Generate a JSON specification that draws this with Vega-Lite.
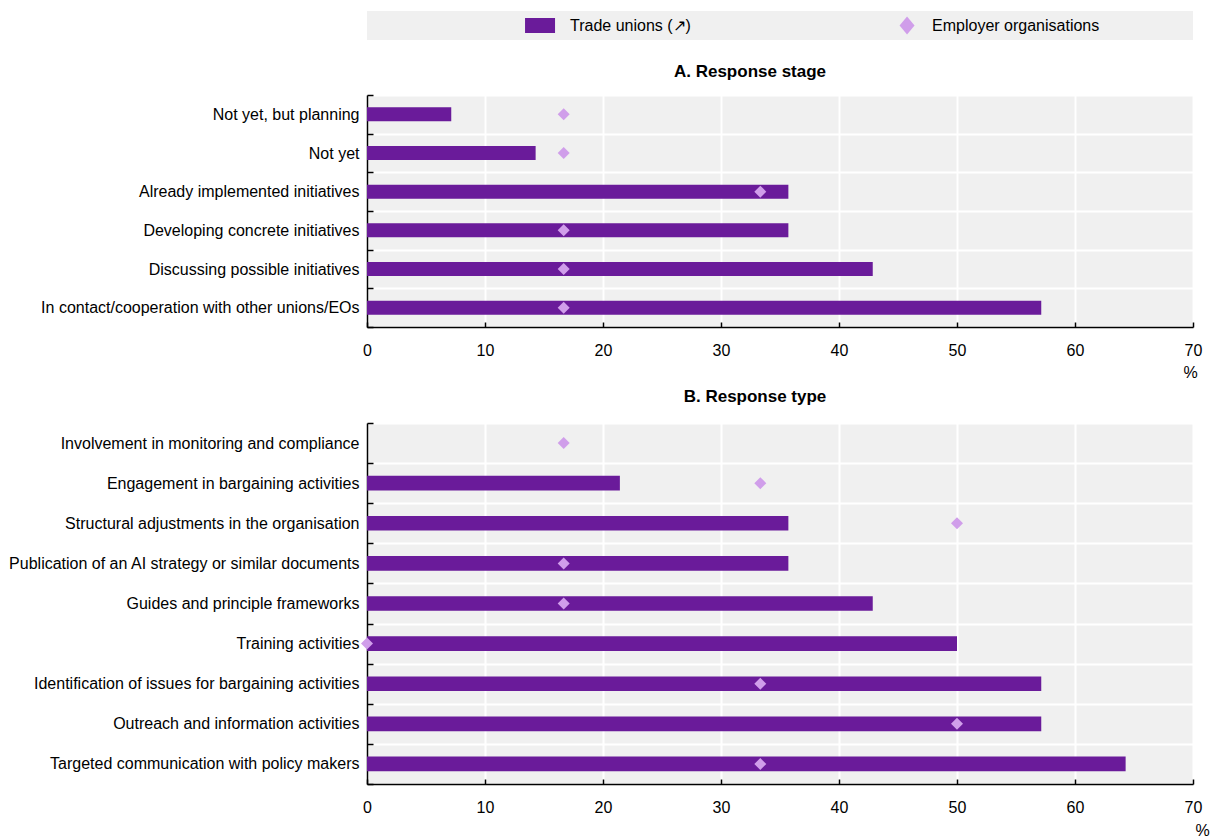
{
  "$schema": "https://vega.github.io/schema/vega-lite/v6.json",
  "padding": {"left": 7, "top": 11, "right": 5, "bottom": 0},
  "spacing": 8,
  "config": {
    "font": "Liberation Sans",
    "view": {"stroke": null},
    "axis": {
      "labelFont": "Liberation Sans",
      "labelFontSize": 16,
      "labelColor": "#000",
      "titleFont": "Liberation Sans",
      "titleFontSize": 16,
      "titleFontWeight": "normal",
      "titleColor": "#000",
      "domainColor": "#000",
      "domainWidth": 1.5,
      "tickColor": "#000",
      "tickWidth": 1.5,
      "gridColor": "#ffffff",
      "gridWidth": 2,
      "gridOpacity": 1
    }
  },
  "datasets": {
    "legend": [
      {"series": "Trade unions (↗)"},
      {"series": "Employer organisations"}
    ],
    "stage": [
      {"item": "Not yet, but planning", "tu": 7.14, "eo": 16.67},
      {"item": "Not yet", "tu": 14.29, "eo": 16.67},
      {"item": "Already implemented initiatives", "tu": 35.71, "eo": 33.33},
      {"item": "Developing concrete initiatives", "tu": 35.71, "eo": 16.67},
      {"item": "Discussing possible initiatives", "tu": 42.86, "eo": 16.67},
      {"item": "In contact/cooperation with other unions/EOs", "tu": 57.14, "eo": 16.67}
    ],
    "type": [
      {"item": "Involvement in monitoring and compliance", "tu": 0, "eo": 16.67},
      {"item": "Engagement in bargaining activities", "tu": 21.43, "eo": 33.33},
      {"item": "Structural adjustments in the organisation", "tu": 35.71, "eo": 50},
      {"item": "Publication of an AI strategy or similar documents", "tu": 35.71, "eo": 16.67},
      {"item": "Guides and principle frameworks", "tu": 42.86, "eo": 16.67},
      {"item": "Training activities", "tu": 50, "eo": 0},
      {"item": "Identification of issues for bargaining activities", "tu": 57.14, "eo": 33.33},
      {"item": "Outreach and information activities", "tu": 57.14, "eo": 50},
      {"item": "Targeted communication with policy makers", "tu": 64.29, "eo": 33.33}
    ]
  },
  "vconcat": [
    {
      "width": 826,
      "height": 29,
      "view": {"fill": "#F0F0F0", "stroke": null},
      "data": {"name": "legend"},
      "encoding": {
        "x": {
          "field": "series",
          "type": "nominal",
          "sort": null,
          "scale": {"type": "point", "padding": 0.6253, "align": 0.377},
          "axis": null
        }
      },
      "layer": [
        {
          "mark": {"type": "point", "filled": true, "opacity": 1, "size": 225, "strokeWidth": 0},
          "encoding": {
            "shape": {
              "field": "series",
              "type": "nominal",
              "scale": {
                "domain": ["Trade unions (↗)", "Employer organisations"],
                "range": ["M-2,-1H2V1H-2Z", "M-1,0L0,-1.2L1,0L0,1.2Z"]
              },
              "legend": null
            },
            "color": {
              "field": "series",
              "type": "nominal",
              "scale": {
                "domain": ["Trade unions (↗)", "Employer organisations"],
                "range": ["#6A1B9A", "#D09EEA"]
              },
              "legend": null
            }
          }
        },
        {
          "transform": [{"filter": "datum.series === 'Trade unions (↗)'"}],
          "mark": {"type": "text", "align": "left", "baseline": "middle", "dx": 30, "fontSize": 16, "color": "#000"},
          "encoding": {"text": {"field": "series"}}
        },
        {
          "transform": [{"filter": "datum.series === 'Employer organisations'"}],
          "mark": {"type": "text", "align": "left", "baseline": "middle", "dx": 25, "fontSize": 16, "color": "#000"},
          "encoding": {"text": {"field": "series"}}
        }
      ]
    },
    {
      "width": 826,
      "height": 232,
      "view": {"fill": "#F0F0F0", "stroke": null},
      "title": {
        "text": ["", "A. Response stage"],
        "lineHeight": 15,
        "fontSize": 17,
        "fontWeight": "bold",
        "color": "#000",
        "anchor": "middle",
        "frame": "group",
        "dx": -30,
        "offset": 6
      },
      "data": {"name": "stage"},
      "encoding": {
        "y": {
          "field": "item",
          "type": "nominal",
          "sort": null,
          "scale": {"paddingInner": 0, "paddingOuter": 0},
          "axis": {"title": null, "tickBand": "extent", "grid": true, "tickSize": -6, "labelPadding": 14, "labelLimit": 500}
        }
      },
      "layer": [
        {
          "mark": {"type": "bar", "color": "#6A1B9A", "height": {"band": 0.36}},
          "encoding": {
            "x": {
              "field": "tu",
              "type": "quantitative",
              "scale": {"domain": [0, 70], "nice": false},
              "axis": {
                "values": [0, 10, 20, 30, 40, 50, 60, 70],
                "grid": true,
                "tickSize": -5,
                "labelPadding": 20,
                "labelFlush": false,
                "title": "%",
                "titleX": 823,
                "titleY": 37,
                "titleAlign": "center",
                "titleBaseline": "top"
              }
            }
          }
        },
        {
          "mark": {"type": "point", "shape": "diamond", "filled": true, "opacity": 1, "size": 144, "color": "#D09EEA", "strokeWidth": 0},
          "encoding": {"x": {"field": "eo", "type": "quantitative"}}
        }
      ]
    },
    {
      "width": 826,
      "height": 361,
      "view": {"fill": "#F0F0F0", "stroke": null},
      "title": {
        "text": "B. Response type",
        "fontSize": 17,
        "fontWeight": "bold",
        "color": "#000",
        "anchor": "middle",
        "frame": "group",
        "dx": -25,
        "offset": 9
      },
      "data": {"name": "type"},
      "encoding": {
        "y": {
          "field": "item",
          "type": "nominal",
          "sort": null,
          "scale": {"paddingInner": 0, "paddingOuter": 0},
          "axis": {"title": null, "tickBand": "extent", "grid": true, "tickSize": -6, "labelPadding": 14, "labelLimit": 500}
        }
      },
      "layer": [
        {
          "mark": {"type": "bar", "color": "#6A1B9A", "height": {"band": 0.365}},
          "encoding": {
            "x": {
              "field": "tu",
              "type": "quantitative",
              "scale": {"domain": [0, 70], "nice": false},
              "axis": {
                "values": [0, 10, 20, 30, 40, 50, 60, 70],
                "grid": true,
                "tickSize": -5,
                "labelPadding": 20,
                "labelFlush": false,
                "title": "%",
                "titleX": 835,
                "titleY": 38,
                "titleAlign": "center",
                "titleBaseline": "top"
              }
            }
          }
        },
        {
          "mark": {"type": "point", "shape": "diamond", "filled": true, "opacity": 1, "size": 144, "color": "#D09EEA", "strokeWidth": 0},
          "encoding": {"x": {"field": "eo", "type": "quantitative"}}
        }
      ]
    }
  ]
}
